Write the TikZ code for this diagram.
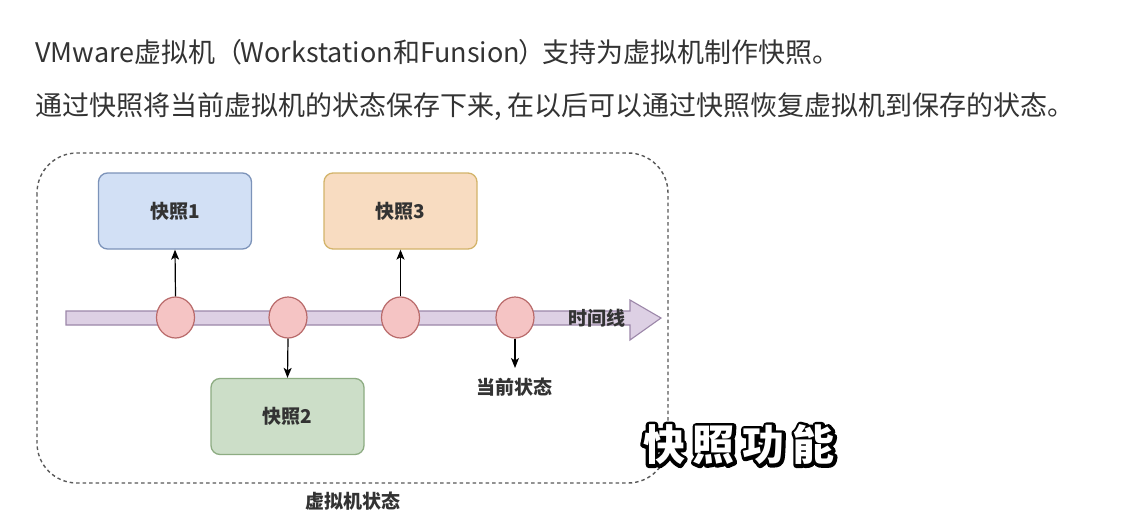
\documentclass[tikz,border=0pt]{standalone}
\usepackage{fontspec}
\setmainfont{Noto Sans CJK SC}
\usetikzlibrary{shapes.geometric,arrows.meta}
\definecolor{txt}{HTML}{333333}
\definecolor{bluef}{HTML}{D2E0F5}\definecolor{blued}{HTML}{7C93B9}
\definecolor{orangef}{HTML}{F8DCC1}\definecolor{oranged}{HTML}{D3B46A}
\definecolor{greenf}{HTML}{CCDEC8}\definecolor{greend}{HTML}{8DAC82}
\definecolor{redf}{HTML}{F5C4C4}\definecolor{redd}{HTML}{B96A6A}
\definecolor{purf}{HTML}{DDD0E4}\definecolor{purd}{HTML}{9C87A9}
\newcommand\captext{快\hspace{8pt}照\hspace{8pt}功\hspace{8pt}能}
\newcommand\strokeon{\special{pdf:literal direct 1 Tr 6.5 w 1 j 0 0 0 RG}}
\newcommand\strokeoff{\special{pdf:literal direct 0 Tr}}
\tikzset{
  snapbox/.style={draw, line width=1.3pt, rounded corners=9pt, minimum width=153pt, minimum height=76pt, inner sep=0pt, text=txt, font=\fontsize{19}{22}\selectfont\bfseries},
  dot/.style={ellipse, draw=redd, fill=redf, line width=1.2pt, minimum width=38pt, minimum height=41pt, inner sep=0pt},
  conn/.style={-{Stealth[length=10pt,width=8pt,inset=2.5pt]}, line width=1.2pt, black},
  lbl/.style={text=txt, font=\fontsize{19}{22}\selectfont\bfseries, inner sep=0pt},
  head/.style={text=txt, font=\fontsize{27}{32}\selectfont, inner sep=0pt, anchor=west},
  outl/.style={font=\fontsize{42}{48}\selectfont\bfseries, inner sep=0pt},
}
\begin{document}
\begin{tikzpicture}[x=1pt,y=-1pt]
\useasboundingbox[fill=white] (0,0) rectangle (1121,514);
% heading text
\node[head] (t1) at (35,52) {VMware虚拟机（\hspace{-0.06em}Workstation和Funsion\hspace{-0.06em}）\hspace{-0.1em}支持为虚拟机制作快照。};
\node[head] (t2) at (35,107) {通过快照将当前虚拟机的状态保存下来, 在以后可以通过快照恢复虚拟机到保存的状态。};
% dashed frame
\draw[draw=black!65, line width=1.4pt, dash pattern=on 3.5pt off 3pt, rounded corners=40pt] (37,153) rectangle (668,483);
% timeline
\draw[draw=purd, fill=purf, line width=1.1pt] (66,311) -- (630,311) -- (630,300) -- (661,318) -- (630,340) -- (630,325) -- (66,325) -- cycle;
\node[lbl] (tl) at (597,318) {时间线};
% circles
\node[dot] (c1) at (175.5,317.5) {};
\node[dot] (c2) at (288,317.5) {};
\node[dot] (c3) at (400.5,317.5) {};
\node[dot] (c4) at (515,317.5) {};
% snapshot boxes
\node[snapbox, draw=blued, fill=bluef] (s1) at (175,211) {快照1};
\node[snapbox, draw=oranged, fill=orangef] (s3) at (400.5,211) {快照3};
\node[snapbox, draw=greend, fill=greenf] (s2) at (287.5,416.5) {快照2};
% current state
\coordinate (cur) at (515,368);
\node[lbl] (curl) at (514,387) {当前状态};
% connectors
\draw[conn] (c1.north) -- (s1.south);
\draw[conn] (c3.north) -- (s3.south);
\draw[conn] (c2.south) -- (s2.north);
\draw[conn] (c4.south) -- (cur);
% frame label
\node[lbl] (vm) at (353,501) {虚拟机状态};
% outlined caption: black stroke under white fill
\node[outl, text=black] (capo) at (739,445) {\strokeon\captext\strokeoff};
\node[outl, text=white] (cap) at (739,445) {\captext};
\end{tikzpicture}
\end{document}
